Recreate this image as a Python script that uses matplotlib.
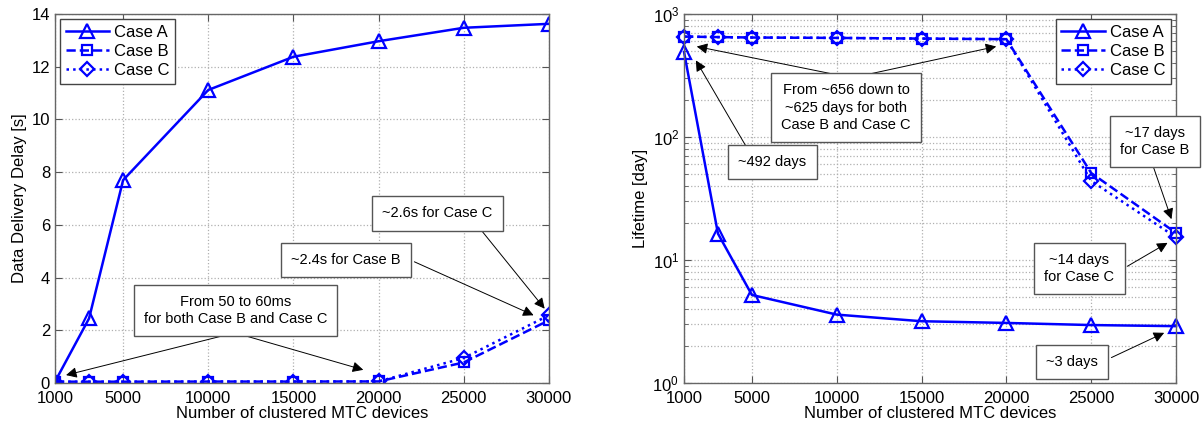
import numpy as np
import matplotlib
matplotlib.use("Agg")
import matplotlib.pyplot as plt
from matplotlib.ticker import LogLocator, NullFormatter

plt.rcParams['font.family'] = ['Liberation Sans', 'DejaVu Sans']

devices = [1000, 3000, 5000, 10000, 15000, 20000, 25000, 30000]
xticks = [1000, 5000, 10000, 15000, 20000, 25000, 30000]

delay_a = [0.05, 2.45, 7.7, 11.12, 12.38, 12.97, 13.48, 13.63]
delay_b = [0.05, 0.05, 0.05, 0.055, 0.055, 0.06, 0.78, 2.38]
delay_c = [0.05, 0.05, 0.05, 0.055, 0.055, 0.06, 0.95, 2.57]

life_a = [492, 16.4, 5.2, 3.6, 3.18, 3.08, 2.96, 2.9]
life_b = [656, 650, 645, 640, 632, 625, 51, 16.6]
life_c = [656, 650, 645, 640, 632, 625, 44, 15.3]

labels = ["Case A", "Case B", "Case C"]
BLUE = (0, 0, 1)

fig = plt.figure(figsize=(12.03, 4.28), dpi=100)
ax1 = fig.add_axes([0.0457, 0.1051, 0.4106, 0.862])
ax2 = fig.add_axes([0.5686, 0.1051, 0.409, 0.862])

styles = [dict(ls='-', marker='^', ms=10, lw=1.8),
          dict(ls='--', marker='s', ms=7, lw=1.8),
          dict(ls=':', marker='D', ms=7, lw=1.8)]


def draw(ax, series, clip):
    for ys, st, lab in zip(series, styles, labels):
        ax.plot(devices, ys, color=BLUE, mfc='none', mec=BLUE, mew=1.6,
                label=lab, clip_on=clip, **st)


draw(ax1, [delay_a, delay_b, delay_c], True)
draw(ax2, [life_a, life_b, life_c], False)

for ax in (ax1, ax2):
    ax.set_xlim(1000, 30000)
    ax.set_xticks(xticks)
    ax.set_xlabel("Number of clustered MTC devices", fontsize=12, labelpad=0)
    ax.tick_params(direction='in', top=True, right=True, labelsize=12,
                   color='#555555', length=5)
    ax.tick_params(axis='x', pad=6)
    ax.tick_params(which='minor', direction='in', top=True, right=True,
                   color='#555555', length=3)
    for s in ax.spines.values():
        s.set_color('#666666')
        s.set_linewidth(1.0)
    ax.grid(True, which='major', ls=':', color='#b0b0b0', lw=0.9)

ax1.set_ylim(0, 14)
ax1.set_yticks(range(0, 15, 2))
ax1.set_ylabel("Data Delivery Delay [s]", fontsize=12, labelpad=3)

ax2.set_yscale('log')
ax2.set_ylim(1, 1000)
ax2.yaxis.set_minor_locator(LogLocator(base=10, subs=np.arange(2, 10)))
ax2.yaxis.set_minor_formatter(NullFormatter())
ax2.grid(True, which='minor', axis='y', ls=':', color='#b0b0b0', lw=0.9)
ax2.set_ylabel("Lifetime [day]", fontsize=12, labelpad=3)

leg_kw = dict(fontsize=12, fancybox=False, framealpha=1, edgecolor='#444444',
              handlelength=2.6, borderpad=0.35, labelspacing=0.25,
              handletextpad=0.3, borderaxespad=0.3)
l1 = ax1.legend(loc='upper left', **leg_kw)
l2 = ax2.legend(loc='upper right', **leg_kw)
for l in (l1, l2):
    l.get_frame().set_linewidth(1.0)
    l.set_zorder(10)

box = dict(boxstyle='square,pad=0.7', fc='white', ec='#555555', lw=1.0)
arrow = dict(arrowstyle='-|>', color='black', lw=0.7, mutation_scale=16,
             shrinkA=0, shrinkB=0)
tfs = 10.5

# Left annotations
ax1.text(11600, 2.75, "From 50 to 60ms\nfor both Case B and Case C",
         ha='center', va='center', fontsize=tfs, bbox=box, zorder=5,
         linespacing=1.3)
ax1.annotate("", xy=(1650, 0.3), xytext=(11400, 1.88), arrowprops=arrow)
ax1.annotate("", xy=(19100, 0.5), xytext=(11700, 1.88), arrowprops=arrow)
ax1.text(18060, 4.66, "~2.4s for Case B", ha='center', va='center',
         fontsize=tfs, bbox=box, zorder=5)
ax1.annotate("", xy=(29100, 2.57), xytext=(22100, 4.6), arrowprops=arrow)
ax1.text(23450, 6.44, "~2.6s for Case C", ha='center', va='center',
         fontsize=tfs, bbox=box, zorder=5)
ax1.annotate("", xy=(29750, 2.82), xytext=(25900, 5.9), arrowprops=arrow)

# Right annotations
ax2.text(10550, 173, "From ~656 down to\n~625 days for both\nCase B and Case C",
         ha='center', va='center', fontsize=tfs, bbox=box, zorder=5,
         linespacing=1.3)
ax2.annotate("", xy=(1750, 545), xytext=(9800, 325), arrowprops=arrow)
ax2.annotate("", xy=(19400, 545), xytext=(11900, 325), arrowprops=arrow)
ax2.text(6200, 63, "~492 days", ha='center', va='center', fontsize=tfs,
         bbox=box, zorder=5)
ax2.annotate("", xy=(1700, 420), xytext=(4700, 82), arrowprops=arrow)
t17 = ax2.text(28750, 92, "~17 days\nfor Case B", ha='center', va='center',
               fontsize=tfs, bbox=box, zorder=5, linespacing=1.3)
t17.set_clip_on(False)
ax2.annotate("", xy=(29730, 21.5), xytext=(28630, 59), arrowprops=arrow)
ax2.text(24300, 8.55, "~14 days\nfor Case C", ha='center', va='center',
         fontsize=tfs, bbox=box, zorder=5, linespacing=1.3)
ax2.annotate("", xy=(29500, 13.8), xytext=(27130, 8.9), arrowprops=arrow)
ax2.text(23870, 1.49, "~3 days", ha='center', va='center', fontsize=tfs,
         bbox=box, zorder=5)
ax2.annotate("", xy=(29300, 2.56), xytext=(26190, 1.61), arrowprops=arrow)

fig.savefig("out.png", dpi=100)
